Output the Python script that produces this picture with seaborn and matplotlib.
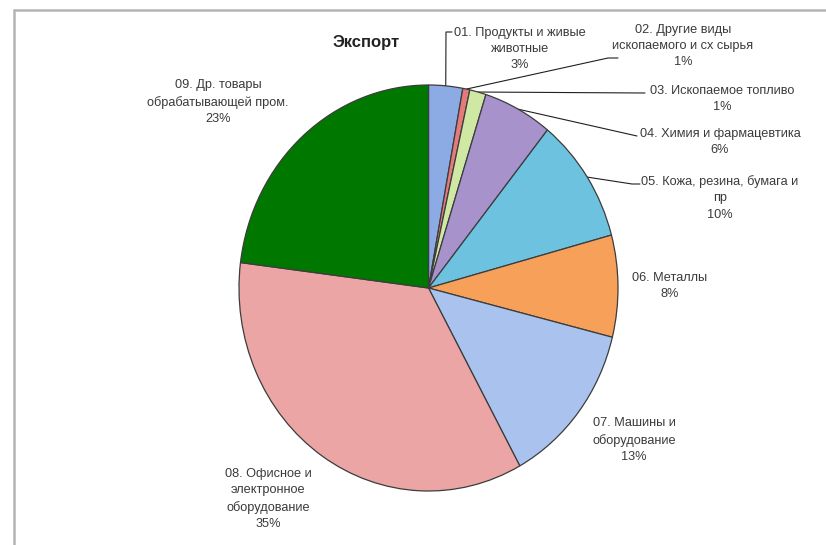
"""
Export structure pie chart (Экспорт)
"""

import numpy as np
import matplotlib.pyplot as plt
import seaborn as sns

# Shares of export by category, %
categories = [
    "01. Продукты и живые\nживотные",
    "02. Другие виды\nископаемого и сх сырья",
    "03. Ископаемое топливо",
    "04. Химия и фармацевтика",
    "05. Кожа, резина, бумага и\nпр",
    "06. Металлы",
    "07. Машины и\nоборудование",
    "08. Офисное и\nэлектронное\nоборудование",
    "09. Др. товары\nобрабатывающей пром.",
]
shares = [2.9, 0.6, 1.4, 5.9, 10.0, 8.1, 13.1, 35.0, 23.0]
colors = [
    "#8cabe4", "#e57a7a", "#cfe8a4", "#a792cc", "#6dc3df",
    "#f6a05a", "#a9c3ee", "#eba5a5", "#007800",
]

# label placement (pixel coords of the 826x545 canvas) and leader line bends
label_pos = [(520, 49), (683, 46), (722, 99), (720, 142), (720, 198),
             (670, 286), (634, 440), (268, 499), (218, 102)]
leader_path = [
    [(446, 32), (452, 32)],
    [(608, 58), (618, 58)],
    [(645, 93)],
    [(637, 136)],
    [(632, 184), (640, 184)],
    None, None, None, None,
]

sns.set_theme(style="white")
plt.rcParams["font.family"] = ["Liberation Sans", "DejaVu Sans"]
text_color = "#3a3a3a"

W, H = 826, 545
fig = plt.figure(figsize=(W / 100, H / 100), dpi=100)
fig.patch.set_facecolor("white")

# overlay axes in pixel coordinates for labels, leader lines and frame
ax_txt = fig.add_axes([0, 0, 1, 1])
ax_txt.set_xlim(0, W)
ax_txt.set_ylim(H, 0)
ax_txt.axis("off")

# pie axes (slightly wider than tall like the original)
left, right, top, bottom = 239, 618, 85, 491
ax = fig.add_axes([left / W, 1 - bottom / H, (right - left) / W, (bottom - top) / H])
wedges, _ = ax.pie(
    shares,
    colors=colors,
    startangle=90,
    counterclock=False,
    radius=1,
    wedgeprops=dict(edgecolor="#3c3c3c", linewidth=0.9),
)
ax.set_aspect("auto")
ax.set_xlim(-1, 1)
ax.set_ylim(-1, 1)
ax.axis("off")

to_px = ax.transData + ax_txt.transData.inverted()

for i, (w, lab, v) in enumerate(zip(wedges, categories, shares)):
    x, y = label_pos[i]
    ax_txt.text(x, y, f"{lab}\n{round(v)}%", ha="center", va="center",
                fontsize=9.2, color=text_color, linespacing=1.45)
    if leader_path[i] is not None:
        mid = np.deg2rad((w.theta1 + w.theta2) / 2)
        sx, sy = to_px.transform((np.cos(mid), np.sin(mid)))
        pts = [(sx, sy)] + leader_path[i]
        ax_txt.plot([p[0] for p in pts], [p[1] for p in pts],
                    color="#202020", lw=0.8)

ax_txt.text(366, 43, "Экспорт", ha="center", va="center", fontsize=12,
            fontweight="bold", color="#222222")

# chart area frame (only top and left edges visible)
ax_txt.plot([14, W], [9.5, 9.5], color="#b4b4b4", lw=1.8)
ax_txt.plot([14, 14], [9.5, H], color="#b4b4b4", lw=1.8)

plt.savefig("out.png", dpi=100, facecolor="white")
